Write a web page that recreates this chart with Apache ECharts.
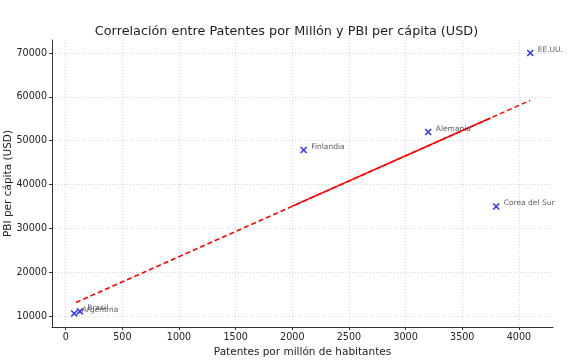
<!DOCTYPE html>
<html><head><meta charset="utf-8">
<script src="https://cdn.jsdelivr.net/npm/echarts@6/dist/echarts.min.js"></script>
<style>html,body{margin:0;padding:0;background:#fff}#c{width:573px;height:362px}</style>
</head><body><div id="c"></div>
<script>
const countries = ["Argentina", "Brasil", "Finlandia", "Alemania", "Corea del Sur", "EE.UU."];
const patents = [75, 125, 2100, 3200, 3800, 4100];
const gdp = [10600, 11100, 47900, 52000, 35000, 70000];
const trendX = [90, 4100];
const trendY = [13100, 59200];
const trendSolidX = [2000, 3750];
const trendSolidY = [35100, 55200];
const xTicks = [0, 500, 1000, 1500, 2000, 2500, 3000, 3500, 4000];
const yTicks = [10000, 20000, 30000, 40000, 50000, 60000, 70000];

const font = 'DejaVu Sans';
const chart = echarts.init(document.getElementById('c'), null, {renderer: 'canvas'});
const pts = countries.map((n, i) => ({name: n, value: [patents[i], gdp[i]]}));
chart.setOption({
  animation: false,
  backgroundColor: '#fff',
  title: {text: 'Correlación entre Patentes por Millón y PBI per cápita (USD)', left: 'center', top: 20,
    textStyle: {fontFamily: font, fontSize: 12.8, fontWeight: 'normal', color: '#222'}},
  grid: {left: 52, right: 20, top: 40, bottom: 35, containLabel: false, outerBoundsMode: 'none'},
  xAxis: {type: 'value', min: -121, max: 4301,
    name: 'Patentes por millón de habitantes', nameLocation: 'middle', nameGap: 20, nameMoveOverlap: false,
    nameTextStyle: {fontFamily: font, fontSize: 10.5, color: '#222'},
    axisLine: {show: true, onZero: false, lineStyle: {color: '#333', width: 1}},
    axisTick: {show: true, customValues: xTicks, length: 3, lineStyle: {color: '#333'}},
    axisLabel: {customValues: xTicks, formatter: v => String(v), fontFamily: font, fontSize: 9.6, color: '#222', margin: 5},
    splitLine: {show: true, lineStyle: {type: [1, 2], color: '#ccc', width: 0.8}}},
  yAxis: {type: 'value', min: 7525, max: 72975,
    name: 'PBI per cápita (USD)', nameLocation: 'middle', nameGap: 38, nameMoveOverlap: false,
    nameTextStyle: {fontFamily: font, fontSize: 10.5, color: '#222'},
    axisLine: {show: true, onZero: false, lineStyle: {color: '#333', width: 1}},
    axisTick: {show: true, customValues: yTicks, length: 3, lineStyle: {color: '#333'}},
    axisLabel: {customValues: yTicks, formatter: v => String(v), fontFamily: font, fontSize: 9.6, color: '#222', margin: 5},
    splitLine: {show: true, lineStyle: {type: [1, 2], color: '#ccc', width: 0.8}}},
  series: [
    {type: 'line', data: trendX.map((x, i) => [x, trendY[i]]), symbol: 'none',
      lineStyle: {color: 'red', width: 1.5, type: [5, 3]}, z: 2},
    {type: 'line', data: trendSolidX.map((x, i) => [x, trendSolidY[i]]), symbol: 'none',
      lineStyle: {color: 'red', width: 1.5}, z: 2},
    {type: 'scatter', data: pts, symbol: 'path://M0,0L10,10M10,0L0,10', symbolSize: 6,
      itemStyle: {color: 'none', borderColor: '#0000ff', borderWidth: 1.6}, z: 3,
      label: {show: true, position: 'right', distance: 2, offset: [0, -3], formatter: p => p.name,
        fontFamily: font, fontSize: 7.5, color: '#333'}}
  ]
});
</script></body></html>
